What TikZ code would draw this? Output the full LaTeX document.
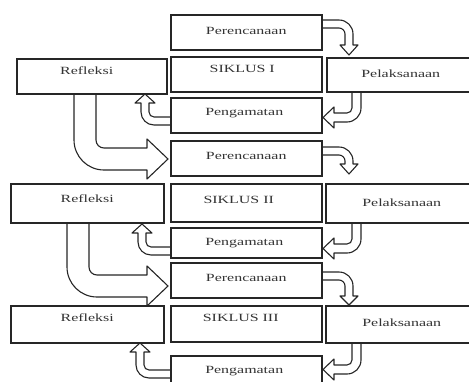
\documentclass[tikz,border=0pt]{standalone}
\usepackage{fontspec}
\setmainfont{Liberation Serif}
\usepackage{graphicx}
\usetikzlibrary{backgrounds}
\newcommand\sx[1]{\scalebox{1.45}[1]{#1}}
% block arrow: right then down
\newcommand\ArrA[5]{%x0,t,xo,hb,ht
  \draw[blk] (#1,#2) -- (#3-14,#2) .. controls (#3-6.27,#2) and (#3,#2+6.27) .. (#3,#2+14)
    -- (#3,#4) -- (#3+5,#4) -- (#3-4,#5) -- (#3-13,#4) -- (#3-8,#4) -- (#3-8,#2+14)
    .. controls (#3-8,#2+10.69) and (#3-10.69,#2+8) .. (#3-14,#2+8) -- (#1,#2+8);}
% block arrow: down then left
\newcommand\ArrB[4]{%yb,xo,yo,tipx
  \draw[blk] (#2-9,#1) -- (#2-9,#3-14) .. controls (#2-9,#3-11.24) and (#2-11.24,#3-9) .. (#2-14,#3-9)
    -- (#4+11,#3-9) -- (#4+11,#3-15) -- (#4,#3-4.5) -- (#4+11,#3+6) -- (#4+11,#3)
    -- (#2-14,#3) .. controls (#2-6.27,#3) and (#2,#3-6.27) .. (#2,#3-14) -- (#2,#1);}
% block arrow: left then up
\newcommand\ArrC[4]{%xe,yo,xo,tipy
  \draw[blk] (#1,#2-8) -- (#3+13,#2-8) .. controls (#3+10.24,#2-8) and (#3+8,#2-10.24) .. (#3+8,#2-13)
    -- (#3+8,#4+9) -- (#3+14,#4+9) -- (#3+4,#4) -- (#3-6,#4+9) -- (#3,#4+9)
    -- (#3,#2-13) .. controls (#3,#2-5.82) and (#3+5.82,#2) .. (#3+13,#2) -- (#1,#2);}
% big block arrow: down then right
\newcommand\ArrD[5]{%ys,xo,yo,hb,tipx
  \draw[blk] (#2+22,#1) -- (#2+22,#3-30) .. controls (#2+22,#3-25.58) and (#2+25.58,#3-22) .. (#2+30,#3-22)
    -- (#4,#3-22) -- (#4,#3-31) -- (#5,#3-11) -- (#4,#3+9) -- (#4,#3)
    -- (#2+30,#3) .. controls (#2+13.44,#3) and (#2,#3-13.44) .. (#2,#3-30) -- (#2,#1);}
\begin{document}
\begin{tikzpicture}[x=1pt,y=-1pt,
  box/.style={draw=black!85, line width=1.5pt, fill=white, inner sep=0pt, anchor=north west},
  txt/.style={font=\fontsize{11}{12}\selectfont, text=black!80, inner sep=0pt, text height=7.3pt, text depth=0pt},
  blk/.style={draw=black!85, line width=1.1pt, fill=white, line join=round}]
\useasboundingbox (0,0) rectangle (469,381);
\clip (0,0) rectangle (469,381);
% row 1
\node[box, minimum width=151pt, minimum height=35pt, label={[txt,yshift=1pt]center:\sx{Perencanaan}}] (per1) at (170,14) {};
\node[box, minimum width=151pt, minimum height=35pt, label={[txt,yshift=5.5pt,xshift=-4pt]center:\sx{SIKLUS I}}] (sik1) at (170,56) {};
\node[box, minimum width=150pt, minimum height=35pt, label={[txt,yshift=5.5pt,xshift=-5pt]center:\sx{Refleksi}}] (ref1) at (16,58) {};
\node[box, minimum width=148pt, minimum height=34pt, label={[txt,yshift=1pt]center:\sx{Pelaksanaan}}] (pel1) at (326,57) {};
\node[box, minimum width=151pt, minimum height=35pt, label={[txt,yshift=3pt,xshift=-2pt]center:\sx{Pengamatan}}] (pen1) at (170,97) {};
% row 2
\node[box, minimum width=151pt, minimum height=35pt, label={[txt,yshift=2.5pt]center:\sx{Perencanaan}}] (per2) at (170,140) {};
\node[box, minimum width=153pt, minimum height=39pt, label={[txt,yshift=4.5pt]center:\sx{Refleksi}}] (ref2) at (10,183) {};
\node[box, minimum width=151pt, minimum height=38pt, label={[txt,yshift=3pt,xshift=-7.5pt]center:\sx{SIKLUS II}}] (sik2) at (170,183) {};
\node[box, minimum width=152pt, minimum height=39pt, label={[txt]center:\sx{Pelaksanaan}}] (pel2) at (325,183) {};
\node[box, minimum width=151pt, minimum height=30pt, label={[txt,yshift=1pt,xshift=-2pt]center:\sx{Pengamatan}}] (pen2) at (170,227) {};
% row 3
\node[box, minimum width=151pt, minimum height=35pt, label={[txt,yshift=2.5pt]center:\sx{Perencanaan}}] (per3) at (170,262) {};
\node[box, minimum width=153pt, minimum height=37pt, label={[txt,yshift=6pt]center:\sx{Refleksi}}] (ref3) at (10,305) {};
\node[box, minimum width=151pt, minimum height=36pt, label={[txt,yshift=6pt,xshift=-5.5pt]center:\sx{SIKLUS III}}] (sik3) at (170,305) {};
\node[box, minimum width=152pt, minimum height=37pt, label={[txt,yshift=1.5pt]center:\sx{Pelaksanaan}}] (pel3) at (325,305) {};
\node[box, minimum width=151pt, minimum height=40pt, label={[txt,yshift=6pt,xshift=-2pt]center:\sx{Pengamatan}}] (pen3) at (170,355) {};
% arrows
\begin{scope}[on background layer]
\ArrA{318}{20}{353}{45}{55}
\ArrA{318}{147}{353}{164}{174}
\ArrA{318}{272}{353}{296}{305}
\ArrB{88}{361}{122}{323}
\ArrB{219}{361}{253}{323}
\ArrB{339}{361}{374}{323}
\ArrC{172}{125}{141}{94}
\ArrC{172}{255}{138}{224}
\ArrC{172}{378}{136}{343}
\ArrD{90}{74}{170}{147}{168}
\ArrD{218}{67}{297}{147}{168}
\end{scope}
\end{tikzpicture}
\end{document}
